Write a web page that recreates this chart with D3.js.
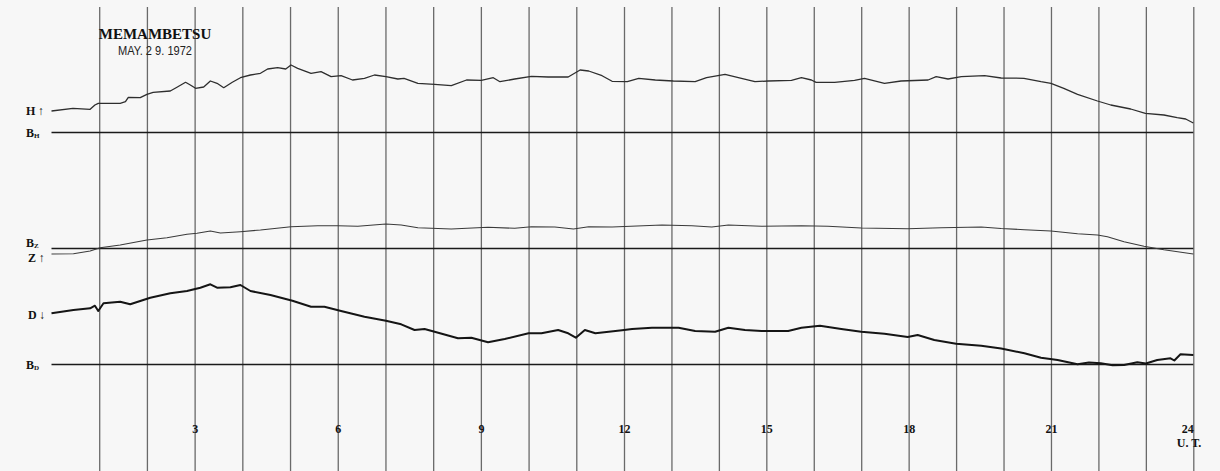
<!DOCTYPE html>
<html>
<head>
<meta charset="utf-8">
<script src="https://cdn.jsdelivr.net/npm/d3@7"></script>
<style>
  html, body { margin: 0; padding: 0; background: #f7f7f7; }
  svg { display: block; }
</style>
</head>
<body>
<svg width="1220" height="471"></svg>
<script>
// hour lines and hour labels (U.T.)
const hourLines = d3.range(1, 25);
const hourLabels = [3, 6, 9, 12, 15, 18, 21, 24];

// trace deflection above its baseline, [hour, value]
const hTrace = [
  [0, 21.5], [0.45, 24.2], [0.81, 23.2], [0.91, 27.5], [0.98, 29.2], [1.44, 29.2], [1.55, 30.8],
  [1.61, 35.2], [1.86, 34.8], [2.0, 38.2], [2.13, 40.2], [2.49, 41.5], [2.63, 45.2], [2.81, 50.2],
  [2.91, 47.5], [3.02, 44.2], [3.19, 45.5], [3.33, 51.5], [3.47, 49.2], [3.61, 44.8], [3.79, 50.2],
  [3.96, 54.8], [4.17, 57.5], [4.38, 59.2], [4.53, 63.5], [4.74, 64.8], [4.91, 63.5], [5.02, 67.5],
  [5.16, 64.2], [5.44, 59.2], [5.65, 60.8], [5.86, 55.8], [6.07, 56.8], [6.31, 52.5], [6.56, 54.2],
  [6.77, 57.5], [7.01, 55.8], [7.26, 53.5], [7.39, 54.2], [7.68, 49.2], [8.03, 48.2], [8.38, 46.8],
  [8.7, 52.5], [9.01, 52.2], [9.26, 54.8], [9.4, 50.8], [9.71, 53.5], [10.06, 56.2], [10.41, 55.5],
  [10.83, 55.5], [11.08, 62.5], [11.26, 61.5], [11.54, 56.8], [11.75, 51.2], [12.07, 50.8],
  [12.31, 54.2], [12.66, 52.5], [13.04, 51.5], [13.5, 50.8], [13.74, 54.8], [14.13, 58.2],
  [14.41, 54.8], [14.76, 50.8], [15.04, 51.5], [15.53, 52.2], [15.74, 54.8], [15.95, 52.5],
  [16.05, 50.2], [16.44, 50.2], [16.86, 52.2], [17.07, 54.2], [17.49, 49.2], [17.84, 51.5],
  [18.41, 52.5], [18.58, 55.8], [18.83, 53.5], [19.11, 55.8], [19.6, 56.8], [19.95, 54.5],
  [20.43, 54.2], [20.79, 50.8], [21.0, 49.2], [21.27, 44.2], [21.56, 38.2], [21.98, 31.5],
  [22.26, 27.5], [22.68, 23.5], [22.99, 19.2], [23.38, 17.5], [23.66, 14.8], [23.84, 13.5], [24, 9.5]
];

const zTrace = [
  [0, -5.5], [0.46, -5.2], [0.81, -2.5], [1.02, 0.8], [1.44, 3.5], [2.0, 8.5], [2.42, 10.8],
  [2.84, 14.2], [3.05, 15.2], [3.33, 17.5], [3.54, 15.5], [3.96, 16.8], [4.38, 18.5], [5.02, 21.8],
  [5.58, 22.8], [6.0, 22.8], [6.42, 22.2], [7.01, 24.5], [7.33, 23.5], [7.68, 20.8], [7.96, 20.2],
  [8.38, 19.5], [9.15, 21.2], [9.71, 20.2], [10.06, 21.8], [10.55, 21.5], [10.94, 19.5],
  [11.26, 21.8], [11.75, 21.5], [12.8, 23.5], [13.43, 22.8], [13.85, 21.5], [14.2, 23.5],
  [14.9, 22.2], [15.74, 22.8], [16.3, 22.2], [17.0, 20.5], [17.98, 19.8], [18.69, 20.8],
  [19.53, 21.5], [19.95, 20.0], [20.44, 18.8], [21.0, 17.5], [21.56, 14.8], [21.98, 13.5],
  [22.19, 11.8], [22.54, 6.8], [22.96, 2.2], [23.38, -1.2], [24, -5.5]
];

const dTrace = [
  [0, 51.2], [0.46, 54.5], [0.81, 56.2], [0.91, 58.8], [0.98, 53.5], [1.09, 61.2], [1.44, 62.8],
  [1.65, 60.2], [1.86, 63.5], [2.07, 66.8], [2.49, 71.2], [2.84, 73.5], [3.12, 76.8], [3.33, 80.2],
  [3.47, 76.8], [3.75, 77.2], [3.96, 79.5], [4.17, 73.5], [4.59, 69.5], [5.05, 63.8], [5.44, 57.8],
  [5.72, 57.8], [6.07, 53.5], [6.56, 47.8], [7.01, 43.8], [7.33, 40.2], [7.61, 34.5], [7.82, 35.5],
  [8.03, 32.8], [8.52, 26.2], [8.8, 26.8], [9.15, 22.2], [9.5, 25.5], [10.0, 31.2], [10.27, 31.2],
  [10.62, 34.5], [10.83, 31.2], [10.99, 26.8], [11.18, 34.5], [11.4, 31.2], [11.96, 34.2],
  [12.17, 35.5], [12.59, 36.8], [13.15, 36.8], [13.5, 33.5], [13.92, 32.8], [14.2, 36.8],
  [14.55, 34.5], [14.9, 33.5], [15.46, 33.5], [15.74, 36.8], [16.13, 38.8], [16.58, 35.5],
  [17.0, 32.8], [17.49, 30.8], [17.98, 27.5], [18.19, 29.5], [18.54, 24.5], [19.0, 20.8],
  [19.53, 18.8], [19.95, 16.0], [20.44, 11.2], [20.79, 6.8], [21.14, 4.5], [21.56, 0.2],
  [21.8, 2.0], [22.05, 1.2], [22.3, -0.8], [22.54, -0.5], [22.82, 2.2], [23.0, 1.0], [23.24, 4.5],
  [23.52, 6.2], [23.6, 4.0], [23.73, 10.2], [24, 9.5]
];

const svg = d3.select("svg");

const x = d3.scaleLinear()
  .domain([0, 12, 24])
  .range([51.5, 624, 1193.3]);

// one scale per trace: deflection (px) above the baseline
const panels = [
  { trace: hTrace, y: d3.scaleLinear().domain([0, 100]).range([132.5, 32.5]), width: 1.3, color: "#2e2e2e" },
  { trace: zTrace, y: d3.scaleLinear().domain([0, 100]).range([248.5, 148.5]), width: 1.1, color: "#3a3a3a" },
  { trace: dTrace, y: d3.scaleLinear().domain([0, 100]).range([364.5, 264.5]), width: 2, color: "#151515" }
];

// vertical hour lines
svg.append("g")
  .attr("transform", "translate(0,471)")
  .call(d3.axisBottom(x).tickValues(hourLines).tickSize(-464).tickFormat(""))
  .call(g => g.select(".domain").remove())
  .selectAll("line")
  .attr("stroke", "#6a6a6a")
  .attr("stroke-width", 1.3);

// baselines
panels.forEach(p => {
  svg.append("line")
    .attr("x1", x(0)).attr("x2", x(24))
    .attr("y1", p.y(0)).attr("y2", p.y(0))
    .attr("stroke", "#1a1a1a")
    .attr("stroke-width", 1.5);
});

// traces
const line = d3.line().curve(d3.curveLinear);
panels.forEach(p => {
  svg.append("path")
    .datum(p.trace)
    .attr("fill", "none")
    .attr("stroke", p.color)
    .attr("stroke-width", p.width)
    .attr("stroke-linejoin", "round")
    .attr("d", line.x(d => x(d[0])).y(d => p.y(d[1])));
});

// hour labels
svg.append("g")
  .attr("transform", "translate(0,424)")
  .call(d3.axisBottom(x).tickValues(hourLabels).tickSize(0).tickPadding(0))
  .call(g => g.select(".domain").remove())
  .selectAll("text")
  .attr("font-family", "Liberation Serif, serif")
  .attr("font-weight", "bold")
  .attr("font-size", 12)
  .attr("fill", "#111")
  .attr("dx", d => d === 24 ? -6 : 0);

svg.append("text")
  .attr("x", 1189).attr("y", 447)
  .attr("text-anchor", "middle")
  .attr("font-family", "Liberation Serif, serif")
  .attr("font-weight", "bold")
  .attr("font-size", 12)
  .attr("fill", "#111")
  .text("U. T.");

// title
svg.append("text")
  .attr("x", 155).attr("y", 39)
  .attr("text-anchor", "middle")
  .attr("font-family", "Liberation Serif, serif")
  .attr("font-weight", "bold")
  .attr("font-size", 15)
  .attr("fill", "#111")
  .text("MEMAMBETSU");

svg.append("text")
  .attr("x", 118).attr("y", 55)
  .attr("font-family", "Liberation Sans, sans-serif")
  .attr("font-size", 12)
  .attr("fill", "#222")
  .attr("textLength", 74)
  .attr("lengthAdjust", "spacingAndGlyphs")
  .text("MAY. 2 9. 1972");

// left labels
const labelFont = g => g
  .attr("font-family", "Liberation Serif, serif")
  .attr("font-weight", "bold")
  .attr("font-size", 12)
  .attr("fill", "#111");

svg.append("text").attr("x", 26).attr("y", 115).call(labelFont).text("H\u2009\u2191");
svg.append("text").attr("x", 28).attr("y", 262).call(labelFont).text("Z\u2009\u2191");
svg.append("text").attr("x", 28).attr("y", 319).call(labelFont).text("D\u2009\u2193");

[["H", 137], ["Z", 247], ["D", 369]].forEach(([s, yy]) => {
  const t = svg.append("text").attr("x", 26).attr("y", yy).call(labelFont);
  t.append("tspan").text("B");
  t.append("tspan").attr("font-size", 7).attr("dy", 1).text(s);
});
</script>
</body>
</html>
